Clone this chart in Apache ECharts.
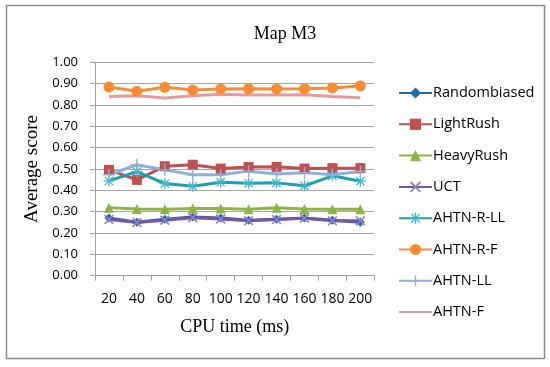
<!DOCTYPE html>
<html><head><meta charset="utf-8">
<script src="https://cdn.jsdelivr.net/npm/echarts@6/dist/echarts.min.js"></script>
<style>html,body{margin:0;padding:0;background:#fff}#c{width:550px;height:367px}</style>
</head><body><div id="c"></div>
<script>
const categories = ['20','40','60','80','100','120','140','160','180','200'];
const randombiased = [0.27,0.25,0.265,0.275,0.27,0.26,0.265,0.27,0.26,0.25];
const lightRush    = [0.496,0.449,0.513,0.52,0.502,0.509,0.51,0.502,0.504,0.504];
const heavyRush    = [0.319,0.313,0.311,0.315,0.315,0.311,0.318,0.313,0.311,0.311];
const uct          = [0.263,0.249,0.26,0.272,0.266,0.258,0.263,0.269,0.257,0.257];
const ahtnRLL      = [0.444,0.488,0.432,0.419,0.438,0.433,0.435,0.421,0.468,0.443];
const ahtnRF       = [0.884,0.864,0.883,0.870,0.875,0.876,0.875,0.876,0.880,0.889];
const ahtnLL       = [0.473,0.52,0.496,0.473,0.473,0.49,0.477,0.483,0.473,0.488];
const ahtnF        = [0.840,0.843,0.833,0.843,0.850,0.847,0.847,0.848,0.840,0.834];
const yTicks = [0,0.1,0.2,0.3,0.4,0.5,0.6,0.7,0.8,0.9,1.0];

const X_SYM = 'path://M0,1.2L1.2,0L5,3.8L8.8,0L10,1.2L6.2,5L10,8.8L8.8,10L5,6.2L1.2,10L0,8.8L3.8,5Z';
const STAR_SYM = 'path://M4.4,0h1.2v10h-1.2Z M0,4.4h10v1.2h-10Z M0.8,1.6L1.6,0.8L9.2,8.4L8.4,9.2Z M8.4,0.8L9.2,1.6L1.6,9.2L0.8,8.4Z';
const PLUS_SYM = 'path://M4.4,0h1.2v10h-1.2Z M0,4.4h10v1.2h-10Z';

function ser(name, data, color, symbol, size, symColor) {
  const s = {
    name, type: 'line', data, symbol, symbolSize: size, showSymbol: symbol !== 'none',
    lineStyle: { width: 3, color },
    itemStyle: { color: symColor || color },
    emphasis: { disabled: true },
    animation: false
  };
  if (symbol === 'none') { s.symbol = 'circle'; s.symbolSize = 0; s.showSymbol = false; s.itemStyle.opacity = 0; }
  return s;
}

const chart = echarts.init(document.getElementById('c'), null, { renderer: 'canvas' });
chart.setOption({
  backgroundColor: '#fff',
  animation: false,
  title: {
    text: 'Map M3', left: 280, top: 20, textAlign: 'center',
    textStyle: { fontFamily: 'Liberation Serif', fontSize: 18, fontWeight: 'normal', color: '#000' }
  },
  graphic: [{
    type: 'rect', shape: { x: 6.5, y: 5.5, width: 538, height: 353 },
    style: { fill: 'none', stroke: '#8c8c8c', lineWidth: 1.5 }, silent: true
  }],
  legend: {
    orient: 'vertical', left: 393, top: 80.5, itemWidth: 33, itemHeight: 14, itemGap: 16.3,
    textStyle: { fontFamily: 'Open Sans', fontSize: 14.5, color: '#000', lineHeight: 14, padding: [0,0,0,-4] },
    data: ['Randombiased','LightRush','HeavyRush','UCT','AHTN-R-LL','AHTN-R-F','AHTN-LL','AHTN-F']
  },
  grid: { left: 95, right: 175.7, top: 62.3, bottom: 91.3, containLabel: false },
  xAxis: {
    type: 'category', data: categories, boundaryGap: true,
    name: 'CPU time (ms)', nameLocation: 'middle', nameGap: 43,
    nameTextStyle: { fontFamily: 'Liberation Serif', fontSize: 18, color: '#000', verticalAlign: 'top' },
    axisLine: { lineStyle: { color: '#a0a0a0', width: 1 } },
    axisTick: { show: true, length: 5, alignWithLabel: false, lineStyle: { color: '#a0a0a0' } },
    axisLabel: { margin: 16, fontFamily: 'Open Sans', fontSize: 14, color: '#000', interval: 0 }
  },
  yAxis: {
    type: 'value', min: 0, max: 1, interval: 0.1,
    name: 'Average score', nameLocation: 'middle', nameGap: 50, nameRotate: 90,
    nameTextStyle: { fontFamily: 'Liberation Serif', fontSize: 19, color: '#000' },
    axisLine: { show: true, lineStyle: { color: '#a0a0a0', width: 1 } },
    axisTick: { show: true, length: 5, lineStyle: { color: '#a0a0a0' } },
    splitLine: { lineStyle: { color: '#a6a6a6', width: 1 } },
    axisLabel: { margin: 17, fontFamily: 'Open Sans', fontSize: 13, color: '#000', formatter: v => v.toFixed(2) }
  },
  series: [
    ser('Randombiased', randombiased, '#2468ad', 'diamond', 9),
    ser('LightRush', lightRush, '#c0504d', 'rect', 10),
    ser('HeavyRush', heavyRush, '#8db443', 'triangle', 10),
    ser('UCT', uct, '#7b56a3', X_SYM, 10, '#9a7fc0'),
    ser('AHTN-R-LL', ahtnRLL, '#1c9db5', STAR_SYM, 11, '#3fb6cc'),
    ser('AHTN-R-F', ahtnRF, '#f78c32', 'circle', 11),
    ser('AHTN-LL', ahtnLL, '#8fb0dc', PLUS_SYM, 12),
    ser('AHTN-F', ahtnF, '#e89a9a', 'none', 0)
  ]
});
</script></body></html>
